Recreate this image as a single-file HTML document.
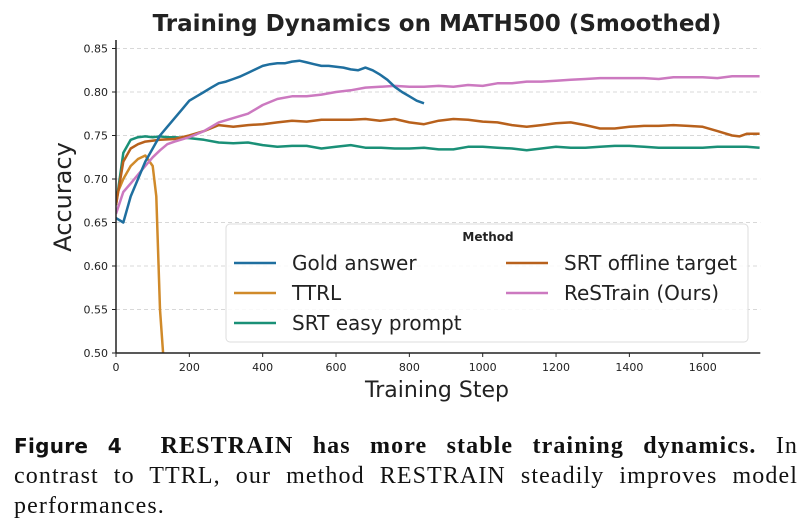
<!DOCTYPE html>
<html><head><meta charset="utf-8"><style>
body{margin:0;background:#fff;width:812px;height:531px;overflow:hidden;font-family:"DejaVu Sans","Liberation Sans",sans-serif}
#cap{position:absolute;left:14px;top:431px;width:784px;font-family:"Liberation Serif",serif;font-size:24px;letter-spacing:1.1px;line-height:30px;color:#111}
#cap div{white-space:nowrap}
#cap .j{text-align:justify;text-align-last:justify}
#cap b.f{font-family:"DejaVu Sans",sans-serif;font-size:20px;letter-spacing:0.3px}
</style></head><body>
<svg id="chart" width="812" height="420" style="position:absolute;left:0;top:0">
<text x="437" y="31" text-anchor="middle" font-size="23" font-weight="bold" fill="#222">Training Dynamics on MATH500 (Smoothed)</text>
<g id="grid"></g><g id="lines"></g><g id="axes"></g>
<text x="437" y="397" text-anchor="middle" font-size="22" fill="#222">Training Step</text>
<text transform="translate(71,197) rotate(-90)" text-anchor="middle" font-size="24" fill="#222">Accuracy</text>
<g id="legend">
<rect x="226" y="224" width="522" height="118" rx="4" fill="#fff" fill-opacity="0.85" stroke="#ddd"/>
<text x="488" y="241" text-anchor="middle" font-size="12" font-weight="bold" fill="#222">Method</text>
</g>
</svg>
<div id="cap">
<div class="j"><b class="f">Figure&nbsp;4</b>&nbsp;&nbsp;<b>RESTRAIN has more stable training dynamics.</b> In</div>
<div class="j">contrast to TTRL, our method RESTRAIN steadily improves model</div>
<div>performances.</div>
</div>
<script>
const xTicks=[0,200,400,600,800,1000,1200,1400,1600];
const yTicks=[0.50,0.55,0.60,0.65,0.70,0.75,0.80,0.85];
const seriesNames=["Gold answer","TTRL","SRT easy prompt","SRT offline target","ReSTrain (Ours)"];
const goldSteps=[0,20,40,60,80,100,120,140,160,180,200,220,240,260,280,300,320,340,360,380,400,420,440,460,480,500,520,540,560,580,600,620,640,660,680,700,720,740,760,780,800,820,840];
const goldVals=[0.655,0.650,0.68,0.70,0.72,0.735,0.75,0.76,0.77,0.78,0.79,0.795,0.80,0.805,0.81,0.812,0.815,0.818,0.822,0.826,0.83,0.832,0.833,0.833,0.835,0.836,0.834,0.832,0.83,0.83,0.829,0.828,0.826,0.825,0.828,0.825,0.82,0.814,0.806,0.80,0.795,0.79,0.787];
const ttrlSteps=[0,20,40,60,80,100,110,120,130];
const ttrlVals=[0.68,0.70,0.715,0.723,0.727,0.715,0.68,0.55,0.49];
const easySteps=[0,20,40,60,80,100,120,140,160,200,240,280,320,360,400,440,480,520,560,600,640,680,720,760,800,840,880,920,960,1000,1040,1080,1120,1160,1200,1240,1280,1320,1360,1400,1440,1480,1520,1560,1600,1640,1680,1720,1755];
const easyVals=[0.67,0.73,0.745,0.748,0.749,0.748,0.749,0.748,0.748,0.747,0.745,0.742,0.741,0.742,0.739,0.737,0.738,0.738,0.735,0.737,0.739,0.736,0.736,0.735,0.735,0.736,0.734,0.734,0.737,0.737,0.736,0.735,0.733,0.735,0.737,0.736,0.736,0.737,0.738,0.738,0.737,0.736,0.736,0.736,0.736,0.737,0.737,0.737,0.736];
const offSteps=[0,20,40,60,80,120,160,200,240,280,320,360,400,440,480,520,560,600,640,680,720,760,800,840,880,920,960,1000,1040,1080,1120,1160,1200,1240,1280,1320,1360,1400,1440,1480,1520,1560,1600,1640,1680,1700,1720,1755];
const offVals=[0.67,0.72,0.735,0.74,0.743,0.745,0.746,0.75,0.755,0.762,0.76,0.762,0.763,0.765,0.767,0.766,0.768,0.768,0.768,0.769,0.767,0.769,0.765,0.763,0.767,0.769,0.768,0.766,0.765,0.762,0.76,0.762,0.764,0.765,0.762,0.758,0.758,0.76,0.761,0.761,0.762,0.761,0.76,0.755,0.75,0.749,0.752,0.752];
const resSteps=[0,20,40,60,80,100,120,140,160,200,240,280,320,360,400,440,480,520,560,600,640,680,720,760,800,840,880,920,960,1000,1040,1080,1120,1160,1200,1240,1280,1320,1360,1400,1440,1480,1520,1560,1600,1640,1680,1720,1755];
const resVals=[0.66,0.685,0.695,0.705,0.715,0.725,0.733,0.74,0.743,0.748,0.755,0.765,0.77,0.775,0.785,0.792,0.795,0.795,0.797,0.80,0.802,0.805,0.806,0.807,0.806,0.806,0.807,0.806,0.808,0.807,0.81,0.81,0.812,0.812,0.813,0.814,0.815,0.816,0.816,0.816,0.816,0.815,0.817,0.817,0.817,0.816,0.818,0.818,0.818];
const NS="http://www.w3.org/2000/svg";
const X0=116,XS=0.3667,Y0=353,YT=48.5,YMIN=0.5,YMAX=0.85,XMAX=1757;
const xs=v=>X0+v*XS, ys=v=>Y0-(v-YMIN)/(YMAX-YMIN)*(Y0-YT);
function mk(t,a,p){const e=document.createElementNS(NS,t);for(const k in a)e.setAttribute(k,a[k]);p.appendChild(e);return e;}
const grid=document.getElementById('grid'),axes=document.getElementById('axes'),lines=document.getElementById('lines');
yTicks.forEach(t=>{const y=ys(t);
 const g=mk('line',{x1:X0,x2:xs(XMAX),y1:y,y2:y,stroke:'#ccc','stroke-dasharray':'4,3','stroke-width':0.8},grid);
 
 
 mk('line',{x1:X0-4,x2:X0,y1:y,y2:y,stroke:'#222'},axes);
 const tx=mk('text',{x:X0-8,y:y+4,'text-anchor':'end','font-size':11,fill:'#222'},axes);tx.textContent=t.toFixed(2);
 
 });
xTicks.forEach(t=>{const x=xs(t);
 mk('line',{x1:x,x2:x,y1:Y0,y2:Y0+4,stroke:'#222'},axes);
 const tx=mk('text',{x:x,y:Y0+18,'text-anchor':'middle','font-size':11,fill:'#222'},axes);tx.textContent=t;
 
 });
mk('line',{x1:X0,x2:X0,y1:40,y2:Y0,stroke:'#222','stroke-width':1.5},axes);
mk('line',{x1:X0,x2:xs(XMAX),y1:Y0,y2:Y0,stroke:'#222','stroke-width':1.5},axes);
mk('clipPath',{id:'clip'},lines);
mk('rect',{x:X0,y:40,width:xs(XMAX)-X0,height:Y0-40},document.getElementById('clip'));
const cols=["#1f6f9f","#d08a2a","#1a9077","#b8611c","#cc79c0"];
const data=[[goldSteps,goldVals],[ttrlSteps,ttrlVals],[easySteps,easyVals],[offSteps,offVals],[resSteps,resVals]];
const order=[1,2,3,4,0];
order.forEach(i=>{const [s,v]=data[i];
 const d=s.map((st,j)=>(j?'L':'M')+xs(st).toFixed(1)+','+ys(v[j]).toFixed(1)).join('');
 const p=mk('path',{d:d,fill:'none',stroke:cols[i],'stroke-width':2.5,'stroke-linejoin':'round','clip-path':'url(#clip)'},lines);
 
 });
const leg=document.getElementById('legend');
const pos=[[234,263],[234,293],[234,323],[506,263],[506,293]];
seriesNames.forEach((n,i)=>{const [x,y]=pos[i];
 mk('line',{x1:x,x2:x+42,y1:y,y2:y,stroke:cols[i],'stroke-width':2.5},leg);
 const t=mk('text',{x:x+58,y:y+7,'font-size':20,fill:'#222'},leg);t.textContent=n;
 
 });
</script>
</body></html>
